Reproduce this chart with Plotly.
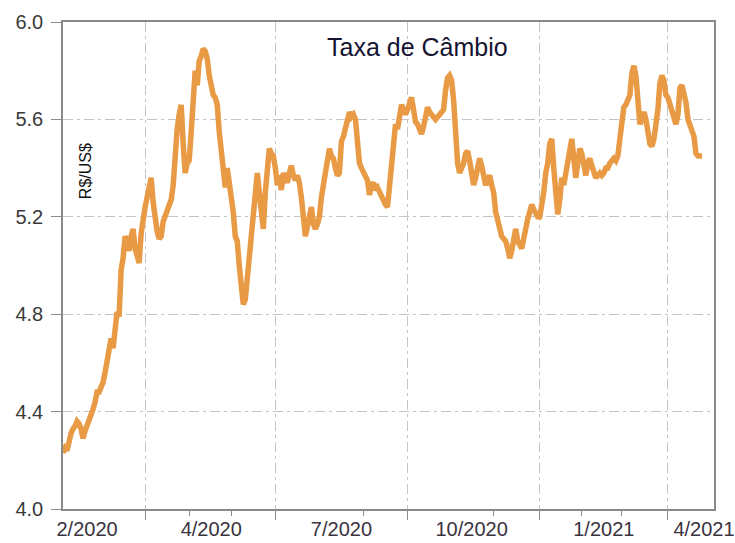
import pandas as pd
import plotly.graph_objects as go

# ---- data: BRL/USD daily (business days) ----
feb20 = [4.23, 4.25, 4.24, 4.29, 4.31, 4.33, 4.34, 4.36, 4.35, 4.33, 4.29, 4.32, 4.34, 4.37, 4.39, 4.41, 4.44, 4.48, 4.48]
mar20 = [4.50, 4.52, 4.56, 4.62, 4.64, 4.70, 4.66, 4.76, 4.81, 4.79, 4.98, 5.03, 5.12, 5.10, 5.06, 5.12, 5.15, 5.07, 5.03, 5.01, 5.13, 5.20]
apr20 = [5.24, 5.28, 5.33, 5.36, 5.26, 5.18, 5.14, 5.11, 5.12, 5.18, 5.20, 5.22, 5.25, 5.27, 5.33, 5.50, 5.56, 5.62, 5.66, 5.50, 5.38, 5.42]
may20 = [5.43, 5.55, 5.65, 5.80, 5.74, 5.84, 5.86, 5.89, 5.88, 5.85, 5.78, 5.72, 5.70, 5.69, 5.66, 5.55, 5.48, 5.42, 5.32, 5.40, 5.35]
jun20 = [5.30, 5.22, 5.12, 5.10, 5.00, 4.90, 4.84, 4.86, 4.95, 5.08, 5.12, 5.25, 5.33, 5.38, 5.30, 5.22, 5.15, 5.30, 5.40, 5.48, 5.46, 5.45]
jul20 = [5.40, 5.33, 5.37, 5.31, 5.38, 5.36, 5.34, 5.38, 5.41, 5.37, 5.35, 5.37, 5.34, 5.28, 5.22, 5.12, 5.16, 5.22, 5.24, 5.17, 5.15, 5.17, 5.20]
aug20 = [5.28, 5.33, 5.38, 5.42, 5.48, 5.45, 5.44, 5.40, 5.37, 5.38, 5.51, 5.53, 5.56, 5.59, 5.63, 5.61, 5.62, 5.60, 5.50, 5.42, 5.40]
sep20 = [5.38, 5.37, 5.35, 5.29, 5.33, 5.34, 5.31, 5.32, 5.30, 5.28, 5.27, 5.25, 5.24, 5.32, 5.40, 5.47, 5.58, 5.56, 5.60, 5.66, 5.64, 5.62]
oct20 = [5.64, 5.67, 5.69, 5.64, 5.59, 5.58, 5.56, 5.54, 5.57, 5.60, 5.65, 5.63, 5.62, 5.61, 5.60, 5.61, 5.62, 5.63, 5.64, 5.72, 5.77, 5.78]
nov20 = [5.76, 5.68, 5.52, 5.42, 5.38, 5.40, 5.42, 5.46, 5.47, 5.43, 5.38, 5.33, 5.36, 5.40, 5.44, 5.41, 5.38, 5.33, 5.35, 5.37, 5.33]
dec20 = [5.30, 5.22, 5.19, 5.14, 5.12, 5.11, 5.10, 5.07, 5.03, 5.06, 5.12, 5.15, 5.10, 5.08, 5.07, 5.11, 5.16, 5.19, 5.22, 5.25, 5.23, 5.21, 5.20]
jan21 = [5.20, 5.24, 5.30, 5.38, 5.42, 5.50, 5.52, 5.40, 5.30, 5.21, 5.27, 5.36, 5.33, 5.38, 5.44, 5.48, 5.52, 5.44, 5.36, 5.42, 5.48]
feb21 = [5.46, 5.41, 5.37, 5.42, 5.44, 5.41, 5.38, 5.36, 5.37, 5.38, 5.37, 5.38, 5.40, 5.40, 5.42, 5.43, 5.44, 5.43, 5.45, 5.52]
mar21 = [5.60, 5.65, 5.66, 5.68, 5.70, 5.79, 5.82, 5.78, 5.66, 5.58, 5.60, 5.63, 5.60, 5.55, 5.50, 5.49, 5.52, 5.58, 5.64, 5.75, 5.78, 5.76, 5.70]
apr21 = [5.69, 5.66, 5.63, 5.61, 5.58, 5.62, 5.73, 5.74, 5.71, 5.67, 5.60, 5.57, 5.55, 5.53, 5.46, 5.45, 5.45, 5.45]

month_starts = ["2020-02-04", "2020-03-01", "2020-04-01", "2020-05-01", "2020-06-01", "2020-07-01",
                "2020-08-01", "2020-09-01", "2020-10-01", "2020-11-01", "2020-12-01", "2021-01-01",
                "2021-02-01", "2021-03-01", "2021-04-01"]
monthly_values = [feb20, mar20, apr20, may20, jun20, jul20, aug20, sep20, oct20, nov20, dec20,
                  jan21, feb21, mar21, apr21]

# axis ticks / labels
quarter_ticks = ["2020-04-01", "2020-07-01", "2020-10-01", "2021-01-01", "2021-04-01"]
month_ticks = ["2020-03-01", "2020-05-01", "2020-06-01", "2020-08-01", "2020-09-01", "2020-11-01",
               "2020-12-01", "2021-02-01", "2021-03-01", "2021-05-01"]
x_label_dates = ["2020-02-20", "2020-05-18", "2020-08-17", "2020-11-16", "2021-02-16", "2021-04-27"]
x_labels = ["2/2020", "4/2020", "7/2020", "10/2020", "1/2021", "4/2021"]
y_ticks = [4.0, 4.4, 4.8, 5.2, 5.6, 6.0]
x_range = ["2020-02-04", "2021-05-04"]

# ---- build series ----
dates, values = [], []
for start, vals in zip(month_starts, monthly_values):
    s = pd.Timestamp(start)
    end = s + pd.offsets.MonthEnd(0)
    d = pd.bdate_range(s, end)[:len(vals)]
    dates.extend(d)
    values.extend(vals[:len(d)])

FONT = "Liberation Sans, Arial, sans-serif"
LINE_COLOR = "#E99A45"
GRID = "#C4C4C4"
FRAME = "#8A8A8A"
DASH = "10px,4px,3px,4px"
rb = [dict(bounds=["sat", "mon"])]

fig = go.Figure()
fig.add_trace(go.Scatter(x=dates, y=values, mode="lines",
                         line=dict(color=LINE_COLOR, width=5.5),
                         showlegend=False, hoverinfo="x+y"))
# invisible trace to activate the label axis
fig.add_trace(go.Scatter(x=dates, y=values, mode="lines", xaxis="x2",
                         line=dict(color="rgba(0,0,0,0)", width=0),
                         showlegend=False, hoverinfo="skip"))

fig.update_layout(
    width=735, height=543,
    margin=dict(l=63, r=21, t=22, b=34, autoexpand=False),
    paper_bgcolor="white", plot_bgcolor="white",
    font=dict(family=FONT, color="#333333"),
    xaxis=dict(
        type="date", range=x_range, rangebreaks=rb,
        tickmode="array", tickvals=quarter_ticks, showticklabels=False,
        ticks="outside", ticklen=9, tickcolor=FRAME, tickwidth=1,
        showgrid=True, gridcolor=GRID, gridwidth=1, griddash=DASH,
        minor=dict(tickmode="array", tickvals=month_ticks, ticks="outside",
                   ticklen=5, tickcolor=FRAME, tickwidth=1, showgrid=False),
        showline=True, linecolor=FRAME, linewidth=1.5, mirror=True,
        zeroline=False,
    ),
    xaxis2=dict(
        type="date", range=x_range, rangebreaks=rb, overlaying="x", anchor="y", side="bottom",
        tickmode="array", tickvals=x_label_dates, ticktext=x_labels,
        ticks="", showgrid=False, showline=False, zeroline=False,
        tickfont=dict(size=20, color="#3a3340", family=FONT),
        ticklabelstandoff=6,
    ),
    yaxis=dict(
        range=[4.0, 6.0], tickmode="array", tickvals=y_ticks,
        ticktext=[f"{v:.1f}" for v in y_ticks],
        tickfont=dict(size=20, color="#3a3a3a", family=FONT),
        ticks="outside", ticklen=10, tickcolor=FRAME, tickwidth=1,
        ticklabelstandoff=4,
        showgrid=True, gridcolor=GRID, gridwidth=1, griddash=DASH,
        showline=True, linecolor=FRAME, linewidth=1.5, mirror=True,
        zeroline=False,
    ),
    annotations=[
        dict(text="Taxa de Câmbio", xref="paper", yref="paper", x=0.545, y=0.948,
             xanchor="center", yanchor="middle", showarrow=False,
             font=dict(size=25, color="#141432", family=FONT)),
        dict(text="R$/US$", xref="paper", yref="paper", x=0.034, y=0.694,
             xanchor="center", yanchor="middle", showarrow=False, textangle=-90,
             font=dict(size=16, color="#111111", family=FONT)),
    ],
)

fig.write_html("out.html",
               config={"displayModeBar": False},
               post_script="document.body.style.margin='0';document.body.style.overflow='hidden';")
